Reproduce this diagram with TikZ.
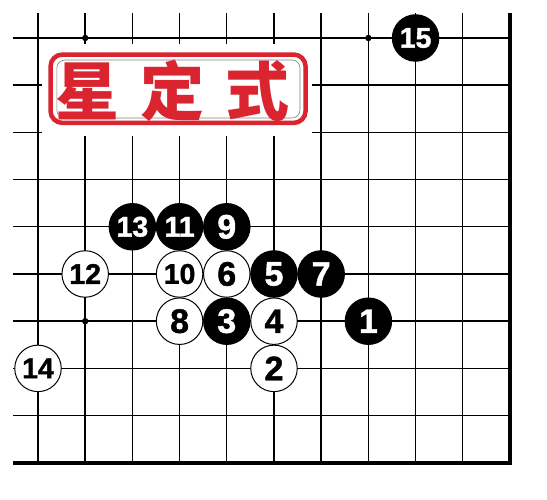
\documentclass[tikz,border=0pt]{standalone}
\usepackage{fontspec}
\setmainfont{Liberation Sans}[BoldFeatures={FakeBold=1.3}]
\newfontfamily\cjk{Noto Sans CJK SC}
\definecolor{stampred}{RGB}{218,37,48}

\begin{document}
\begin{tikzpicture}[x=47.2pt,y=-47.2pt]
\tikzstyle{black stone}=[circle,draw=black,fill=black,text=white,line width=1pt,minimum size=46.5pt,inner sep=0pt,font=\bfseries\fontsize{34}{34}\selectfont]
\tikzstyle{white stone}=[black stone,fill=white,text=black]
\tikzstyle{two}=[font=\bfseries\fontsize{28.5}{28.5}\selectfont]
\tikzstyle{grid line}=[line width=1.4pt]
\tikzstyle{edge line}=[line width=4pt]
\useasboundingbox (-0.805,-0.805) rectangle (10.784,9.788);
% board
\foreach \c in {0,...,9} \draw[grid line] (\c,-0.53) -- (\c,9);
\foreach \r in {0,...,8} \draw[grid line] (-0.53,\r) -- (10,\r);
\draw[edge line] (10,-0.53) -- (10,9) -- (-0.53,9);
\foreach \p in {(1,0),(7,0),(1,6)} \fill \p circle (3.2pt);
% title
\fill[white] (0.085,0.127) rectangle (5.8,2.076);
\draw[stampred,line width=4.5pt,rounded corners=12pt] (0.265,0.35) rectangle (5.67,1.80);
\draw[gray,line width=0.6pt,rounded corners=8pt] (0.40,0.466) rectangle (5.55,1.695);
\node[text=stampred,font=\cjk\bfseries\fontsize{64}{64}\selectfont] (title) at (2.84,1.11) {星\hspace{21pt}定\hspace{21pt}式};
% stones
\node[black stone] (S1) at (7,6) {1};
\node[white stone] (S2) at (5,7) {2};
\node[black stone] (S3) at (4,6) {3};
\node[white stone] (S4) at (5,6) {4};
\node[black stone] (S5) at (5,5) {5};
\node[white stone] (S6) at (4,5) {6};
\node[black stone] (S7) at (6,5) {7};
\node[white stone] (S8) at (3,6) {8};
\node[black stone] (S9) at (4,4) {9};
\node[white stone,two] (S10) at (3,5) {10};
\node[black stone,two] (S11) at (3,4) {11};
\node[white stone,two] (S12) at (1,5) {12};
\node[black stone,two] (S13) at (2,4) {13};
\node[white stone,two] (S14) at (0,7) {14};
\node[black stone,two] (S15) at (8,0) {15};
\end{tikzpicture}
\end{document}
